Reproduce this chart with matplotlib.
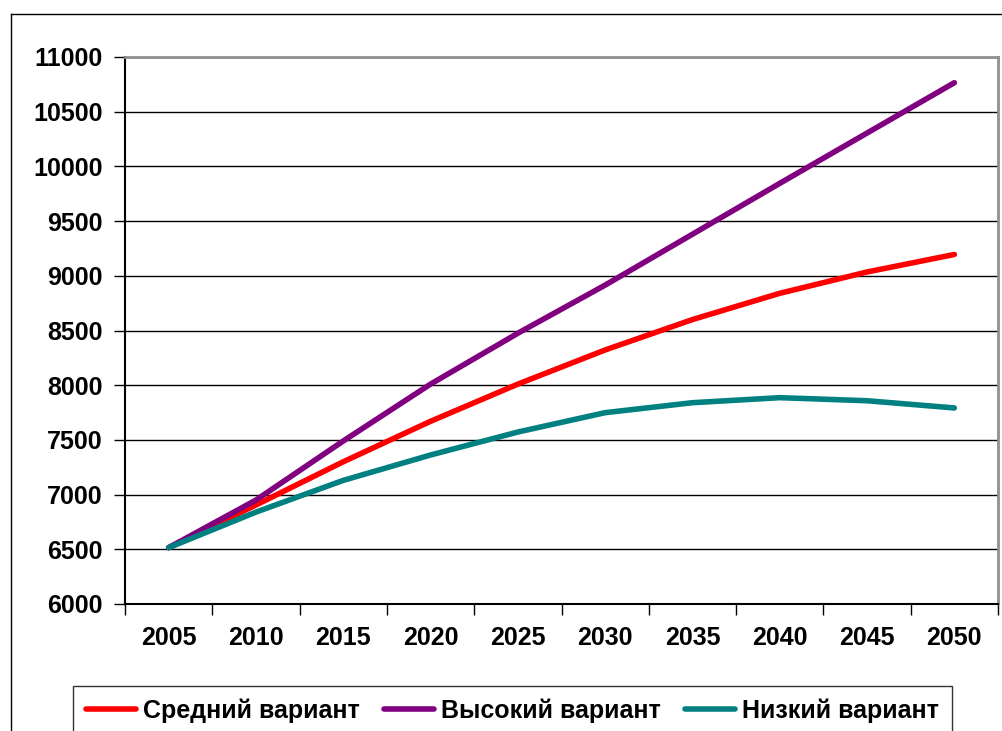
import matplotlib
matplotlib.use("Agg")
import matplotlib.pyplot as plt
from matplotlib.lines import Line2D

years = ['2005', '2010', '2015', '2020', '2025', '2030', '2035', '2040', '2045', '2050']
medium = [6515, 6905, 7300, 7670, 8010, 8322, 8600, 8840, 9035, 9195]
high = [6515, 6950, 7490, 8010, 8475, 8915, 9380, 9845, 10305, 10765]
low = [6515, 6840, 7130, 7362, 7572, 7749, 7840, 7886, 7858, 7792]

names = ['Средний вариант', 'Высокий вариант', 'Низкий вариант']
colors = ['#ff0000', '#800080', '#008080']

plt.rcParams['font.family'] = ['Liberation Sans', 'DejaVu Sans']
plt.rcParams['font.weight'] = 'bold'

fig = plt.figure(figsize=(10.02, 7.31), dpi=100)
ax = fig.add_axes([125/1002, 1-604/731, (998-125)/1002, (604-57)/731])

x = list(range(len(years)))
for vals, name, c in zip([medium, high, low], names, colors):
    ax.plot(x, vals, color=c, lw=4, label=name, solid_capstyle='round', solid_joinstyle='round')

ax.set_xlim(-0.5, len(years) - 0.5)
ax.set_ylim(6000, 11000)
ax.set_yticks(range(6000, 11001, 500))
ax.yaxis.grid(True, color='black', lw=1)
ax.set_axisbelow(True)

ax.set_xticks([i - 0.5 for i in range(len(years) + 1)])
ax.set_xticklabels([])
ax.set_xticks(x, minor=True)
ax.set_xticklabels(years, minor=True, fontsize=18, fontweight='bold')
ax.tick_params(axis='x', which='major', length=8, width=1, direction='out', color='black')
ax.tick_params(axis='x', which='minor', length=0, pad=16)
ax.tick_params(axis='y', length=8, width=1, pad=8, labelsize=18, color='black')

for s in ['left', 'bottom']:
    ax.spines[s].set_color('black')
    ax.spines[s].set_linewidth(1.5)
for s in ['top', 'right']:
    ax.spines[s].set_color('#909090')
    ax.spines[s].set_linewidth(2)

leg = fig.legend(loc='upper left', bbox_to_anchor=(73/1002, 1-686/731), ncol=3,
                 fontsize=18, frameon=True, fancybox=False, edgecolor='black',
                 handlelength=2.0, handletextpad=0.3, columnspacing=0.95,
                 borderpad=0.5, borderaxespad=0)
leg.get_frame().set_linewidth(1)
for t in leg.get_texts():
    t.set_fontweight('bold')

# outer chart border (left and top edges visible)
fig.add_artist(Line2D([11/1002, 11/1002], [0, 1-14/731], transform=fig.transFigure, color='black', lw=1))
fig.add_artist(Line2D([11/1002, 1], [1-14/731, 1-14/731], transform=fig.transFigure, color='black', lw=1))

fig.savefig('out.png', dpi=100)
